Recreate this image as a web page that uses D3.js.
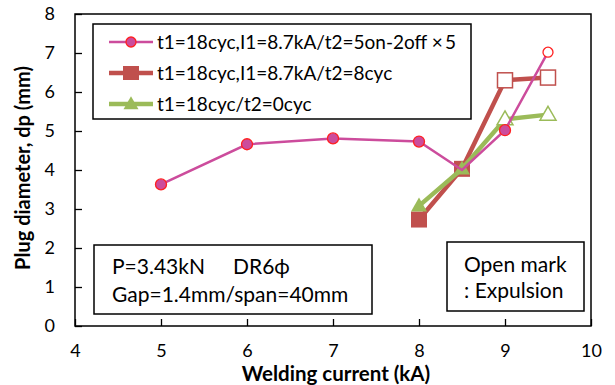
<!DOCTYPE html>
<html>
<head>
<meta charset="utf-8">
<script src="https://cdn.jsdelivr.net/npm/d3@7.9.0/dist/d3.min.js"></script>
<style>
  body { margin: 0; background: #fff; }
  text { font-family: Lato, "Open Sans", sans-serif; fill: #000; }
</style>
</head>
<body>
<svg id="chart" width="615" height="385"></svg>
<script>
// data
const currents = [5, 6, 7, 8, 8.5, 9, 9.5];
const pulseValues = [3.63, 4.66, 4.81, 4.73, 4.0, 5.02, 7.02];
const pulseOpen = [false, false, false, false, false, false, true];

const holdCurrents = [8, 8.5, 9, 9.5];
const holdValues = [2.73, 4.03, 6.3, 6.37];
const holdOpen = [false, false, true, true];

const baseCurrents = [8, 8.5, 9, 9.5];
const baseValues = [3.08, 4.03, 5.3, 5.42];
const baseOpen = [false, false, true, true];

const legendLabels = [
  't1=18cyc,I1=8.7kA/t2=5on-2off \u00d7\u20095',
  't1=18cyc,I1=8.7kA/t2=8cyc',
  't1=18cyc/t2=0cyc'
];
const xTicks = [4, 5, 6, 7, 8, 9, 10];
const yTicks = [0, 1, 2, 3, 4, 5, 6, 7, 8];

const svg = d3.select('#chart');
const plotLeft = 75, plotRight = 591, plotTop = 14, plotBottom = 326;

const x = d3.scaleLinear().domain([4, 10]).range([plotLeft, plotRight]);
const y = d3.scaleLinear().domain([0, 8]).range([plotBottom, plotTop]);

// frame
svg.append('rect')
  .attr('x', plotLeft).attr('y', plotTop)
  .attr('width', plotRight - plotLeft).attr('height', plotBottom - plotTop)
  .attr('fill', 'none').attr('stroke', '#000').attr('stroke-width', 1.5);

// inward ticks
svg.append('g')
  .attr('transform', `translate(0,${plotBottom})`)
  .call(d3.axisBottom(x).tickValues(xTicks).tickFormat(d3.format('d'))
    .tickSizeInner(-7).tickSizeOuter(0).tickPadding(18))
  .call((g) => g.select('.domain').remove())
  .call((g) => g.selectAll('line').attr('stroke-width', 1.3))
  .call((g) => g.selectAll('text').attr('font-size', 18).attr('font-family', null));

svg.append('g')
  .attr('transform', `translate(${plotLeft},0)`)
  .call(d3.axisLeft(y).tickValues(yTicks).tickSizeInner(-7).tickSizeOuter(0).tickPadding(20))
  .call((g) => g.select('.domain').remove())
  .call((g) => g.selectAll('line').attr('stroke-width', 1.3))
  .call((g) => g.selectAll('text').attr('font-size', 18).attr('font-family', null));

// axis titles
svg.append('text')
  .attr('x', 336).attr('y', 381)
  .attr('text-anchor', 'middle')
  .attr('font-size', 20.5).attr('font-weight', 'bold')
  .text('Welding current (kA)');

svg.append('text')
  .attr('transform', 'translate(30,168) rotate(-90)')
  .attr('text-anchor', 'middle')
  .attr('font-size', 20).attr('font-weight', 'bold')
  .text('Plug diameter, dp (mm)');

const line = d3.line();

function tri(cx, cy, s) {
  const h = s * 0.87;
  return `M${cx},${cy - h * 0.6}L${cx + s / 2},${cy + h * 0.4}L${cx - s / 2},${cy + h * 0.4}Z`;
}

const plot = svg.append('g');

// hold series (red squares)
plot.append('path')
  .attr('d', line(holdCurrents.map((c, i) => [x(c), y(holdValues[i])])))
  .attr('fill', 'none').attr('stroke', '#c0504d').attr('stroke-width', 4.5);
holdCurrents.forEach((c, i) => {
  const s = holdOpen[i] ? 15 : 16;
  plot.append('rect')
    .attr('x', x(c) - s / 2).attr('y', y(holdValues[i]) - s / 2)
    .attr('width', s).attr('height', s)
    .attr('fill', holdOpen[i] ? '#fff' : '#c0504d')
    .attr('stroke', '#c0504d').attr('stroke-width', holdOpen[i] ? 1.5 : 0);
});

// base series (green triangles)
plot.append('path')
  .attr('d', line(baseCurrents.map((c, i) => [x(c), y(baseValues[i])])))
  .attr('fill', 'none').attr('stroke', '#9bbb59').attr('stroke-width', 4.5);
baseCurrents.forEach((c, i) => {
  plot.append('path')
    .attr('d', tri(x(c), y(baseValues[i]), 16))
    .attr('fill', baseOpen[i] ? '#fff' : '#9bbb59')
    .attr('stroke', '#9bbb59').attr('stroke-width', baseOpen[i] ? 1.5 : 0);
});

// pulse series (pink circles)
plot.append('path')
  .attr('d', line(currents.map((c, i) => [x(c), y(pulseValues[i])])))
  .attr('fill', 'none').attr('stroke', '#cc4c9c').attr('stroke-width', 2.5);
currents.forEach((c, i) => {
  if (c === 8.5) return;
  plot.append('circle')
    .attr('cx', x(c)).attr('cy', y(pulseValues[i]))
    .attr('r', pulseOpen[i] ? 5 : 5.5)
    .attr('fill', pulseOpen[i] ? '#fff' : '#cc4c9c')
    .attr('stroke', '#ff2020').attr('stroke-width', 1.3);
});

// legend
svg.append('rect')
  .attr('x', 93).attr('y', 24).attr('width', 378).attr('height', 95)
  .attr('fill', '#fff').attr('stroke', '#000').attr('stroke-width', 1.5);

const legendRows = [42, 73, 104];
const legendColors = ['#cc4c9c', '#c0504d', '#9bbb59'];
const legendWidths = [2.5, 4.5, 4.5];
legendLabels.forEach((label, i) => {
  const ly = legendRows[i];
  svg.append('line')
    .attr('x1', 109).attr('x2', 153).attr('y1', ly).attr('y2', ly)
    .attr('stroke', legendColors[i]).attr('stroke-width', legendWidths[i]);
  if (i === 0) {
    svg.append('circle').attr('cx', 131).attr('cy', ly).attr('r', 5)
      .attr('fill', '#cc4c9c').attr('stroke', '#ff2020').attr('stroke-width', 1.3);
  } else if (i === 1) {
    svg.append('rect').attr('x', 131 - 8).attr('y', ly - 7).attr('width', 16).attr('height', 14)
      .attr('fill', '#c0504d');
  } else {
    svg.append('path').attr('d', tri(131, ly, 15)).attr('fill', '#9bbb59');
  }
  svg.append('text')
    .attr('x', 157).attr('y', ly + 7)
    .attr('font-size', 19)
    .text(label);
});

// condition box
svg.append('rect')
  .attr('x', 94).attr('y', 245).attr('width', 278).attr('height', 69)
  .attr('fill', '#fff').attr('stroke', '#000').attr('stroke-width', 1.5);
svg.append('text').attr('x', 112).attr('y', 274).attr('font-size', 21).text('P=3.43kN');
svg.append('text').attr('x', 233).attr('y', 274).attr('font-size', 21).text('DR6\u03d5');
svg.append('text').attr('x', 112).attr('y', 302).attr('font-size', 21).text('Gap=1.4mm/span=40mm');

// note box
svg.append('rect')
  .attr('x', 447).attr('y', 242).attr('width', 137).attr('height', 69)
  .attr('fill', '#fff').attr('stroke', '#000').attr('stroke-width', 1.5);
svg.append('text').attr('x', 464).attr('y', 272).attr('font-size', 21).text('Open mark');
svg.append('text').attr('x', 464).attr('y', 298).attr('font-size', 21).text(': Expulsion');
</script>
</body>
</html>
